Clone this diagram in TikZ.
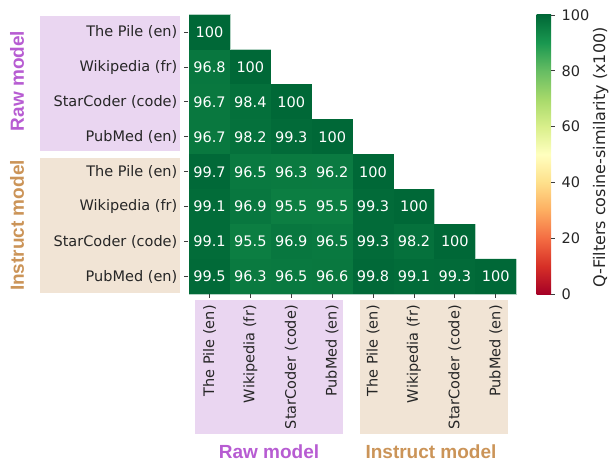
\documentclass[tikz,border=0pt]{standalone}
\usepackage{fontspec}
\setmainfont{DejaVu Sans}
\newfontfamily\boldlab{Liberation Sans}
\definecolor{gmax}{RGB}{0,104,55}
\definecolor{gninety}{RGB}{26,152,80}
\definecolor{rawc}{RGB}{183,92,210}
\definecolor{insc}{RGB}{203,148,88}
\definecolor{rawbox}{RGB}{234,214,241}
\definecolor{insbox}{RGB}{241,228,213}
\definecolor{labc}{RGB}{38,38,38}
\definecolor{cbA}{RGB}{165,0,38}
\definecolor{cbB}{RGB}{215,48,39}
\definecolor{cbC}{RGB}{244,109,67}
\definecolor{cbD}{RGB}{253,174,97}
\definecolor{cbE}{RGB}{254,224,139}
\definecolor{cbF}{RGB}{255,255,191}
\definecolor{cbG}{RGB}{217,239,139}
\definecolor{cbH}{RGB}{166,217,106}
\definecolor{cbI}{RGB}{102,189,99}
\definecolor{cbJ}{RGB}{26,152,80}
\definecolor{cbK}{RGB}{0,104,55}
\pgfdeclareverticalshading{rdylgn}{100bp}{color(0bp)=(cbA); color(25bp)=(cbA); color(30bp)=(cbB); color(35bp)=(cbC); color(40bp)=(cbD); color(45bp)=(cbE); color(50bp)=(cbF); color(55bp)=(cbG); color(60bp)=(cbH); color(65bp)=(cbI); color(70bp)=(cbJ); color(75bp)=(cbK); color(100bp)=(cbK)}
\tikzset{
  cell/.style={minimum width=40.9bp, minimum height=34.9bp, inner sep=0pt, text=white, font=\fontsize{14.5bp}{17bp}\selectfont},
  lab/.style={inner sep=0pt, text=labc, font=\fontsize{14.5bp}{17bp}\selectfont},
  grp/.style={inner sep=0pt, font=\boldlab\bfseries\fontsize{19bp}{22bp}\selectfont},
  tickline/.style={draw=labc!90, line width=0.9bp},
  boxraw/.style={fill=rawbox, draw=none},
  boxins/.style={fill=insbox, draw=none}
}
\begin{document}
\begin{tikzpicture}[x=1bp,y=-1bp]
\useasboundingbox (0,0) rectangle (610,461);
% background group boxes
\fill[boxraw] (40,16) rectangle (180,150.7);
\fill[boxins] (40,158.3) rectangle (180,292.7);
\fill[boxraw] (195,300) rectangle (342.7,434);
\fill[boxins] (360,300) rectangle (508,434);
% staircase under the cells (hides seams) and its light edge
\path[fill=gmax!88!gninety, draw=gmax!30!white, line width=0.7bp] (189,14.7) -- (229.9,14.7) -- (229.9,49.6) -- (270.8,49.6) -- (270.8,84.5) -- (311.7,84.5) -- (311.7,119.4) -- (352.6,119.4) -- (352.6,154.3) -- (393.5,154.3) -- (393.5,189.2) -- (434.4,189.2) -- (434.4,224.1) -- (475.3,224.1) -- (475.3,259) -- (516.2,259) -- (516.2,293.9) -- (189,293.9) -- cycle;
% cells
\foreach \i/\j/\v in {0/0/100,
  1/0/96.8, 1/1/100,
  2/0/96.7, 2/1/98.4, 2/2/100,
  3/0/96.7, 3/1/98.2, 3/2/99.3, 3/3/100,
  4/0/99.7, 4/1/96.5, 4/2/96.3, 4/3/96.2, 4/4/100,
  5/0/99.1, 5/1/96.9, 5/2/95.5, 5/3/95.5, 5/4/99.3, 5/5/100,
  6/0/99.1, 6/1/95.5, 6/2/96.9, 6/3/96.5, 6/4/99.3, 6/5/98.2, 6/6/100,
  7/0/99.5, 7/1/96.3, 7/2/96.5, 7/3/96.6, 7/4/99.8, 7/5/99.1, 7/6/99.3, 7/7/100} {
  \pgfmathtruncatemacro\p{round((\v-90)*10)}
  \node[cell, fill=gmax!\p!gninety] (c\i\j) at ({189+40.9*(\j+0.5)},{14.7+34.9*(\i+0.5)}) {\v};
}
% row ticks and labels
\foreach \i/\t in {0/The Pile (en), 1/Wikipedia (fr), 2/StarCoder (code), 3/PubMed (en), 4/The Pile (en), 5/Wikipedia (fr), 6/StarCoder (code), 7/PubMed (en)} {
  \draw[tickline] ([xshift=-0.4bp]c\i0.west) -- ++(-4,0);
  \node[lab, anchor=east] (rl\i) at ([xshift=-11.3bp]c\i0.west) {\t};
}
% column ticks and labels
\foreach \j/\t in {0/The Pile (en), 1/Wikipedia (fr), 2/StarCoder (code), 3/PubMed (en), 4/The Pile (en), 5/Wikipedia (fr), 6/StarCoder (code), 7/PubMed (en)} {
  \draw[tickline] ([yshift=-0.4bp]c7\j.south) -- ++(0,4);
  \node[lab, rotate=90, anchor=east] (cl\j) at ([yshift=-11bp]c7\j.south) {\t};
}
% group titles
\node[grp, text=rawc, rotate=90, anchor=base] (gr1) at (23.8,81) {Raw model};
\node[grp, text=insc, rotate=90, anchor=base] (gi1) at (23.8,225.5) {Instruct model};
\node[grp, text=rawc, anchor=base] (gr2) at (269,458) {Raw model};
\node[grp, text=insc, anchor=base] (gi2) at (431,458) {Instruct model};
% colorbar
\shade[shading=rdylgn] (536.7,294) rectangle (551,15);
\foreach \k in {0,20,40,60,80,100} {
  \draw[tickline] (551,{294-2.79*\k}) -- ++(4,0);
  \node[lab, anchor=west] (cbl\k) at (561.5,{294-2.79*\k}) {\k};
}
\node[lab, rotate=90, anchor=base, font=\fontsize{16bp}{19bp}\selectfont] (cbtitle) at (605,157.5) {Q-Filters cosine-similarity (x100)};
\end{tikzpicture}
\end{document}
